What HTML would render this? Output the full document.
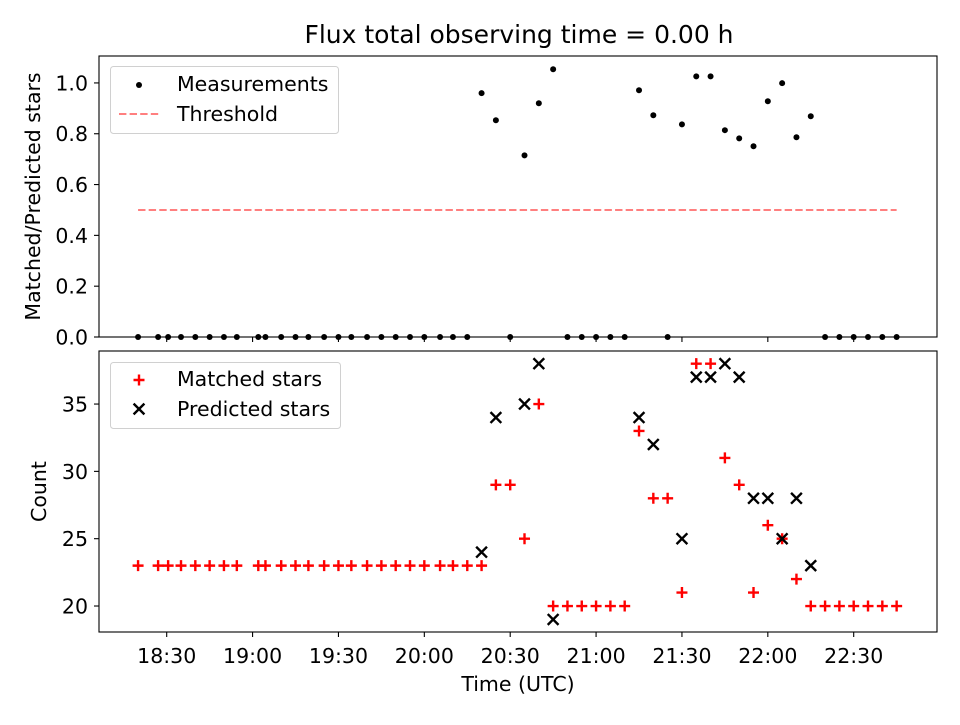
<!DOCTYPE html>
<html><head><meta charset="utf-8"><style>
body{margin:0;background:#fff;}
svg text{font-family:"DejaVu Sans","Liberation Sans",sans-serif;}
</style></head><body>
<svg id="chart" width="960" height="720" viewBox="0 0 960 720" xmlns="http://www.w3.org/2000/svg"></svg>
<script>
// minutes after 18:00
const times=[20,27,30.5,35,40,45,50,54.5,62,64.5,70,75,79.5,85,90,94.5,100,105,110,115,120,125.5,130,135,140,
145,150,155,160,165,170,175,180,185,190,195,200,205,210,215,220,225,230,235,240,245,250,255,260,265,270,275,280,285];
const matched=[23,23,23,23,23,23,23,23,23,23,23,23,23,23,23,23,23,23,23,23,23,23,23,23,23,
29,29,25,35,20,20,20,20,20,20,33,28,28,21,38,38,31,29,21,26,25,22,20,20,20,20,20,20,20];
const predicted=[null,null,null,null,null,null,null,null,null,null,null,null,null,null,null,null,null,null,null,null,null,null,null,null,24,
34,null,35,38,19,null,null,null,null,null,34,32,null,25,37,37,38,37,28,28,25,28,23,null,null,null,null,null,null];
const ratios=[0,0,0,0,0,0,0,0,0,0,0,0,0,0,0,0,0,0,0,0,0,0,0,0,0.96,
0.853,0,0.715,0.92,1.054,0,0,0,0,0,0.971,0.873,0,0.837,1.026,1.026,0.814,0.782,0.751,0.928,0.999,0.786,0.869,0,0,0,0,0,0];
const threshold=0.5;
const xTickLabels=["18:30","19:00","19:30","20:00","20:30","21:00","21:30","22:00","22:30"];
const xTickValues=[30,60,90,120,150,180,210,240,270];
const topYTicks=[0,0.2,0.4,0.6,0.8,1.0];
const botYTicks=[20,25,30,35];

const NS="http://www.w3.org/2000/svg";
const svg=document.getElementById('chart');
function el(tag,attrs,parent){const e=document.createElementNS(NS,tag);for(const k in attrs)e.setAttribute(k,attrs[k]);(parent||svg).appendChild(e);return e;}
const FS=20.5;
const L=99,R=937;
const xMin=6.35,xMax=299.1;
const x=t=>L+(t-xMin)/(xMax-xMin)*(R-L);
const T1=56,B1=337,T2=351,B2=632;
const yTop=v=>B1-(v-0)/(1.106-0)*(B1-T1);
const yBot=v=>B2-(v-18.07)/(38.94-18.07)*(B2-T2);

const title=el('text',{x:519,y:43,'text-anchor':'middle','font-size':'25'});
title.textContent='Flux total observing time = 0.00 h';



function axesFrame(T,B,name){
  const r=el('rect',{x:L,y:T,width:R-L,height:B-T,fill:'none',stroke:'#000','stroke-width':1.1});
  
  
}
const gTop=el('g',{});


const thr=el('line',{x1:x(times[0]),x2:x(times[times.length-1]),y1:yTop(threshold),y2:yTop(threshold),stroke:'#ff7f7f','stroke-width':2,'stroke-dasharray':'7.4,3.2'},gTop);


ratios.forEach((v,i)=>{
  const c=el('circle',{cx:x(times[i]),cy:yTop(v),r:3,fill:'#000'},gTop);
  
  
});
const gBot=el('g',{});


matched.forEach((v,i)=>{
  if(v==null)return;
  const cx=x(times[i]),cy=yBot(v);
  const p=el('path',{d:`M${cx-5.5},${cy}H${cx+5.5}M${cx},${cy-5.5}V${cy+5.5}`,stroke:'#f00','stroke-width':2.4,fill:'none'},gBot);
  
  
});
predicted.forEach((v,i)=>{
  if(v==null)return;
  const cx=x(times[i]),cy=yBot(v),s=5.4;
  const p=el('path',{d:`M${cx-s},${cy-s}L${cx+s},${cy+s}M${cx-s},${cy+s}L${cx+s},${cy-s}`,stroke:'#000','stroke-width':2.4,fill:'none'},gBot);
  
  
});
axesFrame(T1,B1,'top-axes-frame');
axesFrame(T2,B2,'bottom-axes-frame');

xTickValues.forEach((t,i)=>{
  const xx=x(t);
  el('line',{x1:xx,x2:xx,y1:B1,y2:B1+5,stroke:'#000','stroke-width':1.1});
  el('line',{x1:xx,x2:xx,y1:B2,y2:B2+5,stroke:'#000','stroke-width':1.1});
  const tx=el('text',{x:xx,y:B2+31,'text-anchor':'middle','font-size':FS});
  tx.textContent=xTickLabels[i];
  
  
});
topYTicks.forEach(v=>{
  const yy=yTop(v);
  el('line',{x1:L-5,x2:L,y1:yy,y2:yy,stroke:'#000','stroke-width':1.1});
  const tx=el('text',{x:L-11,y:yy+7.5,'text-anchor':'end','font-size':FS});
  tx.textContent=v.toFixed(1);
  
  
});
botYTicks.forEach(v=>{
  const yy=yBot(v);
  el('line',{x1:L-5,x2:L,y1:yy,y2:yy,stroke:'#000','stroke-width':1.1});
  const tx=el('text',{x:L-11,y:yy+7.5,'text-anchor':'end','font-size':FS});
  tx.textContent=String(v);
  
  
});
const yt1=el('text',{x:0,y:0,'text-anchor':'middle','font-size':FS,transform:`translate(40,${(T1+B1)/2}) rotate(-90)`});
yt1.textContent='Matched/Predicted stars';


const yt2=el('text',{x:0,y:0,'text-anchor':'middle','font-size':FS,transform:`translate(46,${(T2+B2)/2}) rotate(-90)`});
yt2.textContent='Count';


const xt=el('text',{x:518,y:691,'text-anchor':'middle','font-size':FS});
xt.textContent='Time (UTC)';



const lg1=el('g',{});


el('rect',{x:110.5,y:66.5,width:228,height:67,rx:3,fill:'#fff','fill-opacity':0.8,stroke:'#d0d0d0'},lg1);
el('circle',{cx:139,cy:85,r:3,fill:'#000'},lg1);
const l1=el('text',{x:177,y:91,'font-size':FS},lg1);l1.textContent='Measurements';
el('line',{x1:119,x2:160,y1:114,y2:114,stroke:'#ff7f7f','stroke-width':2,'stroke-dasharray':'7.4,3.2'},lg1);
const l2=el('text',{x:177,y:121,'font-size':FS},lg1);l2.textContent='Threshold';

const lg2=el('g',{});


el('rect',{x:110.5,y:362.5,width:230,height:66,rx:3,fill:'#fff','fill-opacity':0.8,stroke:'#d0d0d0'},lg2);
el('path',{d:'M133.5,380H144.5M139,374.5V385.5',stroke:'#f00','stroke-width':2.4},lg2);
const l3=el('text',{x:177,y:386,'font-size':FS},lg2);l3.textContent='Matched stars';
el('path',{d:'M133.6,403.6L144.4,414.4M133.6,414.4L144.4,403.6',stroke:'#000','stroke-width':2.4},lg2);
const l4=el('text',{x:177,y:416,'font-size':FS},lg2);l4.textContent='Predicted stars';
</script>
</body></html>
